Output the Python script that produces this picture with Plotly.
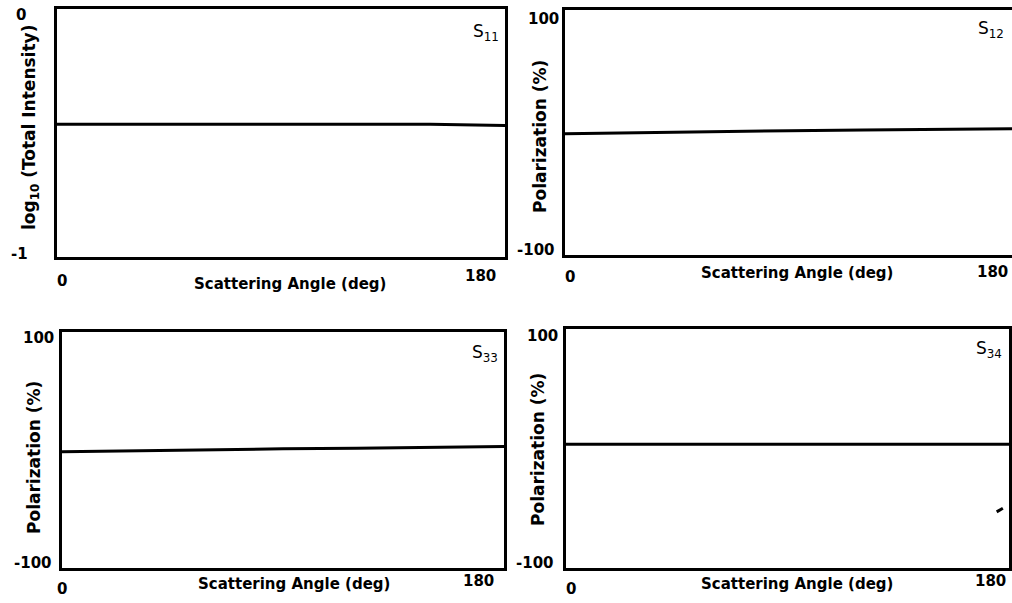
import plotly.graph_objects as go

# Scattering angle samples (deg)
angle = [0, 30, 60, 90, 120, 150, 180]

# Matrix elements vs angle
s11_log = [-0.465, -0.465, -0.465, -0.465, -0.465, -0.465, -0.47]
s12_pol = [-1.0, 0.0, 1.0, 1.5, 2.0, 2.5, 3.0]
s33_pol = [-1.5, -0.5, 0.5, 1.0, 1.5, 2.5, 3.0]
s34_pol = [3.5, 3.5, 3.5, 3.5, 3.5, 3.5, 3.5]

# Small stray segment in the S34 panel
s34_speck_x = [175.0, 177.5]
s34_speck_y = [-53.0, -50.0]

panel_names = ["S<sub>11</sub>", "S<sub>12</sub>", "S<sub>33</sub>", "S<sub>34</sub>"]
y_titles = ["log<sub>10</sub> (Total Intensity)", "Polarization (%)",
            "Polarization (%)", "Polarization (%)"]
y_ranges = [[-1, 0], [-100, 100], [-100, 100], [-100, 100]]
y_ticktext = [["0", "-1"], ["100", "-100"], ["100", "-100"], ["100", "-100"]]
x_ticktext = ["0", "180"]
x_title = "Scattering Angle (deg)"

W, H = 1012, 603

# Panel boxes in pixels: left, right, top, bottom
boxes = [(57, 505, 9, 257), (565, 1012, 10, 255),
         (62, 504, 332, 568), (566, 1009, 329, 568)]

# Text positions in pixels (centres)
ytick_top = [(21, 15), (543, 19), (38, 338), (542, 336)]
ytick_bot = [(19, 254), (536, 250), (33, 563), (535, 563)]
xtick_0 = [(62, 281), (570, 277), (62, 589), (571, 589)]
xtick_180 = [(480, 276), (992, 272), (478, 581), (990, 581)]
xtitle_pos = [(290, 284), (797, 273), (294, 584), (797, 584)]
ytitle_pos = [(30, 128), (540, 137), (34, 458), (538, 450)]
label_pos = [(501, 33), (1006, 30), (500, 353), (1004, 349)]

def px(x):
    return x / W

def py(y):
    return 1 - y / H

FONT = "DejaVu Sans"
fig = go.Figure()
series = [s11_log, s12_pol, s33_pol, s34_pol]

def text(pos, s, size, bold=True, angle=0, xanchor="center"):
    fig.add_annotation(x=px(pos[0]), y=py(pos[1]), xref="paper", yref="paper",
                       text=("<b>%s</b>" % s) if bold else s, showarrow=False,
                       textangle=angle, xanchor=xanchor, yanchor="middle",
                       font=dict(family=FONT, size=size, color="black"))

for i, (l, r, t, b) in enumerate(boxes):
    n = "" if i == 0 else str(i + 1)
    xa, ya = "xaxis" + n, "yaxis" + n
    fig.add_trace(go.Scatter(x=angle, y=series[i], mode="lines",
                             line=dict(color="black", width=3),
                             xaxis="x" + n, yaxis="y" + n, showlegend=False))
    fig.layout[xa] = dict(domain=[px(l), min(px(r), 1.0)], range=[0, 180], anchor="y" + n,
                          showline=True, mirror=True, linewidth=3, linecolor="black",
                          showgrid=False, zeroline=False, showticklabels=False, ticks="")
    fig.layout[ya] = dict(domain=[py(b), py(t)], range=y_ranges[i], anchor="x" + n,
                          showline=True, mirror=(i != 1), linewidth=3, linecolor="black",
                          showgrid=False, zeroline=False, showticklabels=False, ticks="")

    text(ytick_top[i], y_ticktext[i][0], 15)
    text(ytick_bot[i], y_ticktext[i][1], 15)
    text(xtick_0[i], x_ticktext[0], 15)
    text(xtick_180[i], x_ticktext[1], 15)
    text(xtitle_pos[i], x_title, 15)
    text(ytitle_pos[i], y_titles[i], 17, angle=-90)
    text(label_pos[i], panel_names[i], 17, bold=False, xanchor="right")

fig.add_trace(go.Scatter(x=s34_speck_x, y=s34_speck_y, mode="lines",
                         line=dict(color="black", width=3),
                         xaxis="x4", yaxis="y4", showlegend=False))

fig.update_layout(width=W, height=H, margin=dict(l=0, r=0, t=0, b=0),
                  paper_bgcolor="white", plot_bgcolor="white")

fig.write_html("out.html")
